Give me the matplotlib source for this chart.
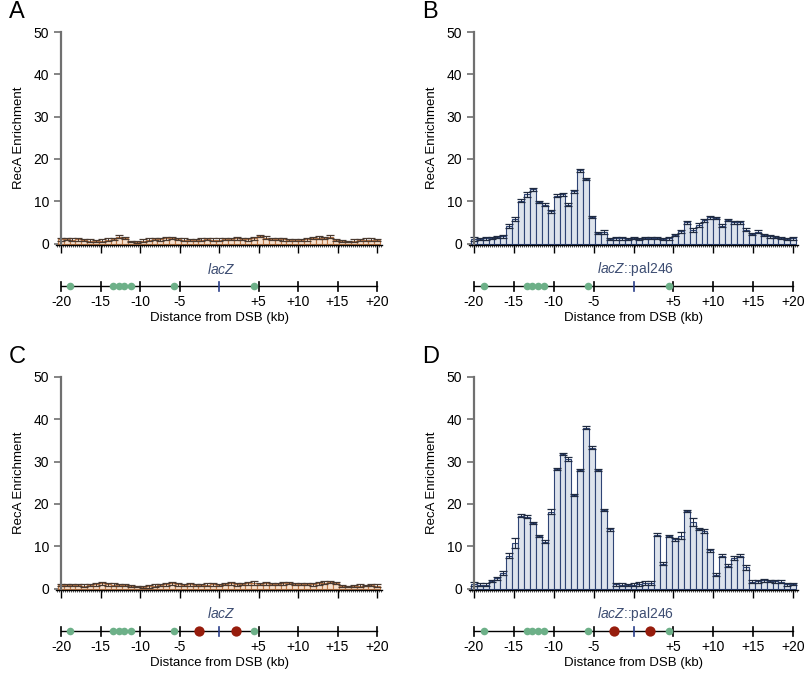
import numpy as np
import matplotlib
matplotlib.use("Agg")
import matplotlib.pyplot as plt
from matplotlib.ticker import MultipleLocator

plt.rcParams['font.family'] = ['Liberation Sans', 'DejaVu Sans']
plt.rcParams['mathtext.fontset'] = 'custom'
plt.rcParams['mathtext.it'] = 'Liberation Sans:italic'
plt.rcParams['mathtext.rm'] = 'Liberation Sans'

# ---- data: RecA enrichment in 55 bins between -20.4 and +20.4 kb ----
n_bins = 55
bin_lo, bin_hi = -20.4, 20.4

enrich_a = [1.0, 1.0, 0.9, 1.0, 0.9, 0.7, 0.6, 0.7, 0.9, 1.1, 1.6, 1.3, 0.5, 0.4,
            0.7, 0.9, 1.0, 1.0, 1.2, 1.3, 1.0, 0.9, 0.9, 0.8, 0.9, 1.0, 0.9, 0.9,
            1.0, 1.1, 1.2, 1.1, 1.0, 1.2, 1.8, 1.4, 1.0, 1.1, 1.0, 0.9, 0.8, 0.8,
            1.0, 1.3, 1.4, 1.3, 1.6, 0.8, 0.6, 0.5, 0.7, 0.8, 0.9, 0.9, 0.9]
err_a = [0.3, 0.2, 0.3, 0.3, 0.2, 0.3, 0.2, 0.3, 0.3, 0.3, 0.4, 0.3, 0.2, 0.2,
         0.3, 0.3, 0.2, 0.3, 0.3, 0.3, 0.2, 0.3, 0.2, 0.3, 0.3, 0.2, 0.3, 0.3,
         0.2, 0.3, 0.3, 0.2, 0.3, 0.3, 0.3, 0.3, 0.2, 0.3, 0.3, 0.2, 0.3, 0.2,
         0.3, 0.3, 0.3, 0.2, 0.3, 0.3, 0.2, 0.2, 0.3, 0.2, 0.3, 0.3, 0.2]

enrich_b = [1.1, 1.1, 1.2, 1.3, 1.5, 1.7, 4.1, 5.8, 10.1, 11.6, 12.8, 9.8, 9.2, 7.6,
            11.3, 11.6, 9.2, 12.3, 17.3, 15.2, 6.3, 2.5, 2.7,
            1.1, 1.2, 1.2, 1.1, 1.25, 1.1, 1.25, 1.3, 1.25, 1.1, 1.2,
            2.0, 2.9, 5.0, 3.2, 4.4, 5.5, 6.2, 6.0, 4.2, 5.6, 5.0, 5.0, 3.3, 2.3,
            2.8, 2.0, 1.7, 1.5, 1.3, 1.1, 1.25]
err_b = [0.4, 0.3, 0.3, 0.3, 0.3, 0.3, 0.4, 0.4, 0.4, 0.5, 0.4, 0.3, 0.3, 0.3,
         0.4, 0.3, 0.4, 0.4, 0.3, 0.3, 0.3, 0.3, 0.4,
         0.3, 0.3, 0.3, 0.3, 0.3, 0.3, 0.3, 0.3, 0.3, 0.3, 0.3,
         0.3, 0.3, 0.4, 0.4, 0.4, 0.4, 0.4, 0.3, 0.4, 0.3, 0.4, 0.3, 0.3, 0.3,
         0.3, 0.3, 0.3, 0.3, 0.3, 0.3, 0.4]

enrich_c = [0.8, 0.8, 0.9, 0.8, 0.7, 0.8, 1.0, 1.2, 1.0, 0.9, 0.9, 0.8, 0.6, 0.5,
            0.4, 0.5, 0.7, 0.8, 1.0, 1.2, 1.0, 0.9, 1.0, 0.8, 0.9, 0.9, 1.0, 0.8,
            1.1, 1.2, 1.0, 1.1, 1.2, 1.3, 1.1, 1.2, 1.0, 1.1, 1.2, 1.3, 1.1, 1.0,
            1.1, 1.0, 1.2, 1.4, 1.5, 1.3, 0.6, 0.5, 0.6, 0.7, 0.7, 0.8, 0.7]
err_c = [0.3, 0.3, 0.2, 0.3, 0.3, 0.2, 0.3, 0.4, 0.3, 0.3, 0.2, 0.3, 0.3, 0.2,
         0.2, 0.3, 0.3, 0.2, 0.3, 0.3, 0.3, 0.2, 0.3, 0.3, 0.2, 0.3, 0.3, 0.3,
         0.3, 0.4, 0.3, 0.3, 0.3, 0.4, 0.3, 0.3, 0.2, 0.3, 0.3, 0.3, 0.3, 0.2,
         0.3, 0.3, 0.3, 0.3, 0.3, 0.3, 0.2, 0.2, 0.3, 0.3, 0.2, 0.3, 0.3]

enrich_d = [1.1, 0.9, 0.9, 1.8, 2.4, 3.7, 7.8, 10.8, 17.2, 17.0, 15.5, 12.4, 11.1,
            18.2, 28.3, 31.8, 30.6, 22.1, 28.0, 38.0, 33.3, 28.0, 18.6, 14.0,
            1.0, 0.9, 0.8, 0.9, 1.1, 1.3, 1.35,
            12.7, 5.9, 12.4, 11.6, 12.5, 18.3, 15.7, 14.1, 13.6, 9.0, 3.3, 7.8,
            5.4, 7.2, 7.8, 5.0,
            1.6, 1.7, 1.9, 1.8, 1.7, 1.6, 1.0, 1.1]
err_d = [0.4, 0.3, 0.3, 0.3, 0.3, 0.4, 0.5, 1.2, 0.3, 0.3, 0.3, 0.3, 0.3,
         0.5, 0.3, 0.3, 0.4, 0.3, 0.3, 0.4, 0.4, 0.3, 0.3, 0.4,
         0.4, 0.3, 0.3, 0.3, 0.4, 0.4, 0.5,
         0.4, 0.3, 0.3, 0.3, 0.8, 0.3, 0.9, 0.3, 0.4, 0.3, 0.3, 0.4,
         0.3, 0.4, 0.3, 0.6,
         0.3, 0.3, 0.3, 0.3, 0.3, 0.3, 0.3, 0.3]

# genomic map features (kb from DSB)
green_sites = [-18.8, -13.4, -12.7, -12.0, -11.2, -5.7, 4.4]
red_sites = [-2.5, 2.1]
map_ticks = [-20, -15, -10, -5, 0, 5, 10, 15, 20]
map_labels = ['-20', '-15', '-10', '-5', '', '+5', '+10', '+15', '+20']

W, H = 807, 677
fig = plt.figure(figsize=(W / 100, H / 100), dpi=100)

edges = np.linspace(bin_lo, bin_hi, n_bins + 1)
centers = (edges[:-1] + edges[1:]) / 2
bw = edges[1] - edges[0]

# panel specs: letter, values, errors, style, construct label, red sites?,
# x px of -20/+20, y px of 0/50, y px of map line
panels = [
    ('A', enrich_a, err_a, 'ctrl', r'$\it{lacZ}$', False, 61, 377, 243.5, 32, 286),
    ('B', enrich_b, err_b, 'pal', r'$\it{lacZ}$::pal246', False, 474, 793, 243.5, 32, 286),
    ('C', enrich_c, err_c, 'ctrl', r'$\it{lacZ}$', True, 61, 377, 588.5, 377, 631),
    ('D', enrich_d, err_d, 'pal', r'$\it{lacZ}$::pal246', True, 474, 793, 588.5, 377, 631),
]

styles = {
    'ctrl': dict(fill='#f8e1ce', edge='#c07a48', err='#4a3a30'),
    'pal': dict(fill='#dde3ec', edge='#2f4475', err='#1f2a40'),
}

xlo, xhi = -20.6, 20.6
ylo, yhi = -0.3, 50

for letter, vals, errs, sty, construct, has_red, x20m, x20p, y0, y50, map_y in panels:
    st = styles[sty]
    pxkb = (x20p - x20m) / 40.0
    left_px = x20m + (xlo + 20) * pxkb
    right_px = x20m + (xhi + 20) * pxkb
    pxu = (y0 - y50) / 50.0
    bot_px = y0 - ylo * pxu
    ax = fig.add_axes([left_px / W, 1 - bot_px / H,
                       (right_px - left_px) / W, (bot_px - y50) / H])
    ax.bar(centers, vals, width=bw, color=st['fill'], edgecolor=st['edge'],
           linewidth=0.8, zorder=2)
    ax.errorbar(centers, vals, yerr=errs, fmt='none', ecolor=st['err'],
                elinewidth=0.7, capsize=3, capthick=0.9, zorder=3)
    ax.set_xlim(xlo, xhi)
    ax.set_ylim(ylo, yhi)
    for s in ['top', 'right']:
        ax.spines[s].set_visible(False)
    ax.spines['left'].set_position(('data', -20))
    ax.spines['left'].set_color('#707070')
    ax.spines['left'].set_linewidth(1.6)
    ax.spines['left'].set_bounds(0, 50)
    ax.spines['left'].set_zorder(4)
    ax.spines['bottom'].set_linewidth(1.0)
    ax.set_yticks([0, 10, 20, 30, 40, 50])
    ax.tick_params(axis='y', colors='#707070', length=5, width=1.2,
                   labelcolor='black', labelsize=10)
    ax.set_xticks(map_ticks)
    ax.set_xticklabels([])
    ax.xaxis.set_minor_locator(MultipleLocator(0.25))
    ax.tick_params(axis='x', which='major', length=6, width=1.0, direction='out')
    ax.tick_params(axis='x', which='minor', length=1.3, width=0.6,
                   color='#333333', direction='out')

    # y label and panel letter
    fig.text((x20m - 42) / W, 1 - ((y0 + y50) / 2) / H, 'RecA Enrichment',
             rotation=90, ha='center', va='center', fontsize=9.5)
    fig.text((x20m - 52) / W, 1 - (y50 - 20) / H, letter, ha='left',
             va='center', fontsize=17)

    # genomic map below the chart
    top_off, bot_off = -30, 42
    mx = fig.add_axes([left_px / W, 1 - (map_y + bot_off) / H,
                       (right_px - left_px) / W, (bot_off - top_off) / H])
    mx.set_xlim(xlo, xhi)
    mx.set_ylim(bot_off, top_off)
    mx.axis('off')
    mx.plot([-20, 20], [0, 0], color='black', lw=1.0, zorder=1)
    for t in map_ticks:
        c = '#2b3f8a' if t == 0 else 'black'
        mx.plot([t, t], [-4.5, 4.5], color=c, lw=1.2, zorder=2)
    mx.scatter(green_sites, [0] * len(green_sites), s=30, color='#6db088',
               zorder=3, linewidths=0)
    if has_red:
        mx.scatter(red_sites, [0] * len(red_sites), s=55, color='#971d0d',
                   zorder=3, linewidths=0)
    for t, lab in zip(map_ticks, map_labels):
        mx.text(t, 16, lab, ha='center', va='center', fontsize=10)
    mx.text(0.3, -17, construct, ha='center', va='center', fontsize=10,
            color='#3d4d72')
    mx.text(0, 32, 'Distance from DSB (kb)', ha='center', va='center',
            fontsize=9.5)

fig.savefig('out.png', dpi=100)
